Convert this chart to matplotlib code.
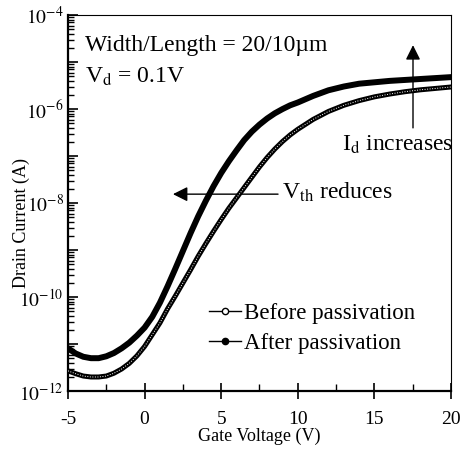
import numpy as np
import matplotlib
matplotlib.use('Agg')
import matplotlib.pyplot as plt
from matplotlib.lines import Line2D
from matplotlib.ticker import LogLocator, FuncFormatter, MultipleLocator

# ---------------------------------------------------------------------------
# Datos (log10 de la corriente de drenador, en A)
# ---------------------------------------------------------------------------
gate_v = [-5.0, -4.5, -4.0, -3.5, -3.0, -2.5, -2.0, -1.5, -1.0, -0.5,
          0.0, 0.5, 1.0, 1.5, 2.0, 2.5, 3.0, 3.5, 4.0, 4.5,
          5.0, 5.5, 6.0, 6.5, 7.0, 7.5, 8.0, 8.5, 9.0, 9.5,
          10.0, 11.0, 12.0, 13.0, 14.0, 15.0, 16.0, 17.0, 18.0, 19.0, 20.0]

log_id_before = [-11.57, -11.63, -11.68, -11.70, -11.70, -11.68, -11.62, -11.53, -11.41, -11.25,
                 -11.05, -10.80, -10.55, -10.25, -9.98, -9.70, -9.42, -9.13, -8.86, -8.60,
                 -8.35, -8.11, -7.89, -7.67, -7.45, -7.23, -7.03, -6.85, -6.69, -6.55,
                 -6.43, -6.22, -6.05, -5.92, -5.82, -5.74, -5.68, -5.63, -5.59, -5.56, -5.53]

log_id_after = [-11.09, -11.20, -11.27, -11.30, -11.30, -11.26, -11.19, -11.09, -10.97, -10.82,
                -10.65, -10.42, -10.12, -9.77, -9.40, -9.02, -8.64, -8.28, -7.95, -7.64,
                -7.36, -7.11, -6.88, -6.66, -6.48, -6.33, -6.20, -6.09, -6.00, -5.92,
                -5.86, -5.72, -5.60, -5.52, -5.46, -5.43, -5.40, -5.38, -5.36, -5.34, -5.32]

etiquetas = ['Before passivation', 'After passivation']

plt.rcParams['font.family'] = ['Liberation Serif', 'DejaVu Serif']
plt.rcParams['mathtext.fontset'] = 'stix'


def main():
    v = np.array(gate_v)
    id_before = 10.0 ** np.array(log_id_before)
    id_after = 10.0 ** np.array(log_id_after)

    fig = plt.figure(figsize=(4.61, 4.49), dpi=100)
    ax = fig.add_axes([0.1475, 0.129, 0.8308, 0.8374])

    # curvas: banda negra gruesa; la de "antes" con puntos blancos dentro
    ax.plot(v, id_after, color='black', lw=4.3, solid_capstyle='round', zorder=3)
    ax.plot(v, id_before, color='black', lw=3.6, solid_capstyle='round', zorder=3)
    ax.plot(v, id_before, color='white', lw=0.7, linestyle=(0, (1, 1.6)), zorder=4)

    ax.set_yscale('log')
    ax.set_xlim(-5, 20)
    ax.set_ylim(1e-12, 1e-4)

    ax.xaxis.set_major_locator(MultipleLocator(5))
    ax.xaxis.set_minor_locator(MultipleLocator(2.5))
    ax.yaxis.set_major_locator(LogLocator(base=10, subs=(1.0,), numticks=20))
    ax.yaxis.set_minor_locator(LogLocator(base=10, subs=np.arange(2, 10) * 1.0, numticks=20))

    def fmt_y(val, pos):
        e = int(round(np.log10(val)))
        if e % 2:
            return ''
        return r'$10^{%d}$' % e

    ax.yaxis.set_major_formatter(FuncFormatter(fmt_y))
    ax.xaxis.set_major_formatter(FuncFormatter(lambda val, pos: '%d' % val))

    ax.tick_params(axis='x', which='major', direction='inout', length=11, width=1.2,
                   labelsize=14, pad=9, top=False)
    ax.tick_params(axis='x', which='minor', direction='in', length=5, width=1.0, top=False)
    ax.tick_params(axis='y', which='major', direction='in', length=7, width=1.2,
                   labelsize=14, pad=3, right=False)
    ax.tick_params(axis='y', which='minor', direction='in', length=4, width=1.0, right=False)

    for lado in ['left', 'bottom']:
        ax.spines[lado].set_linewidth(1.6)
    for lado in ['top', 'right']:
        ax.spines[lado].set_linewidth(0.8)

    ax.set_xlabel('Gate Voltage (V)', fontsize=13)
    ax.set_ylabel('Drain Current (A)', fontsize=13)
    ax.xaxis.set_label_coords(0.5, -0.098)
    ax.yaxis.set_label_coords(-0.10, 0.447)

    # textos de condiciones
    ax.text(0.044, 0.918, 'Width/Length = 20/10\u00b5m', transform=ax.transAxes,
            fontsize=17, ha='left', va='center')
    ax.text(0.044, 0.835, r'V$_{\rm d}$ = 0.1V', transform=ax.transAxes,
            fontsize=17, ha='left', va='center')

    # flecha de V_th
    ax.annotate('', xy=(1.85, 10 ** -7.81), xytext=(8.71, 10 ** -7.81),
                arrowprops=dict(arrowstyle='-|>', color='black', lw=1.0,
                                mutation_scale=22, shrinkA=0, shrinkB=0))
    ax.text(8.97, 10 ** -7.78, r'V$_{\rm th}$ reduces', fontsize=17,
            ha='left', va='center')

    # flecha de I_d
    ax.annotate('', xy=(17.52, 10 ** -4.64), xytext=(17.52, 10 ** -6.40),
                arrowprops=dict(arrowstyle='-|>', color='black', lw=1.0,
                                mutation_scale=22, shrinkA=0, shrinkB=0))
    ax.text(12.88, 10 ** -6.77, r'I$_{\rm d}$ increases', fontsize=17,
            ha='left', va='center')

    handles = [
        Line2D([], [], color='black', lw=1.0, marker='o', markersize=4.5,
               markerfacecolor='white', markeredgecolor='black', markeredgewidth=1.0),
        Line2D([], [], color='black', lw=1.0, marker='o', markersize=4.5,
               markerfacecolor='black', markeredgecolor='black'),
    ]
    ax.legend(handles, etiquetas, loc='center left', bbox_to_anchor=(0.368, 0.166),
              frameon=False, fontsize=16.5, numpoints=1, handlelength=1.4,
              handletextpad=0.15, labelspacing=0.4, borderpad=0, borderaxespad=0)

    fig.savefig('out.png', dpi=100)


if __name__ == '__main__':
    main()
